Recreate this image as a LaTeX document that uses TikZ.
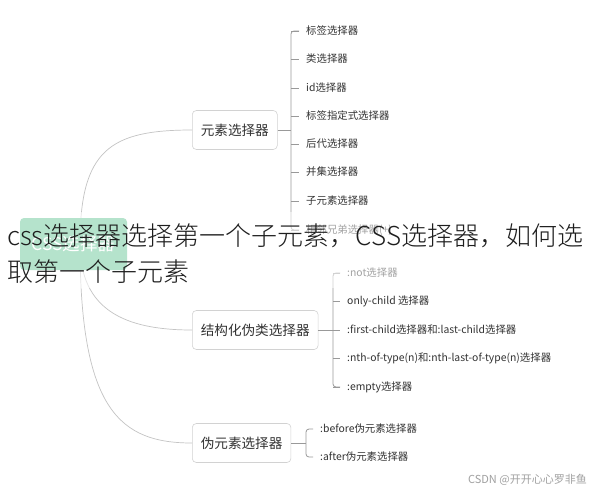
\documentclass[tikz,border=0pt]{standalone}
\usepackage{fontspec}
\setmainfont{Noto Sans CJK SC}
\newfontfamily\titlefont{Noto Sans CJK SC Light}
\definecolor{txt}{HTML}{333333}
\definecolor{boxgray}{HTML}{D2D2D2}
\definecolor{curvegray}{HTML}{C4C4C4}
\definecolor{brgray}{HTML}{999999}
\definecolor{rootgreen}{HTML}{5BC18E}
\definecolor{titlecol}{HTML}{1E1E1E}
\definecolor{wmgray}{HTML}{A0A0A0}
\begin{document}
\begin{tikzpicture}[x=1pt,y=-1pt,
  mainbox/.style={draw=boxgray, fill=white, rounded corners=4pt, line width=0.6pt,
    minimum height=39pt, inner xsep=8.5pt, anchor=west,
    font=\fontsize{13.6}{16}\selectfont, text=txt},
  leaf/.style={anchor=west, inner sep=0pt, font=\fontsize{10.4}{12}\selectfont, text=txt},
  curve/.style={draw=curvegray, line width=0.7pt},
  brack/.style={draw=brgray, line width=0.8pt, rounded corners=3pt},
  conn/.style={draw=brgray, line width=0.8pt},
  titletext/.style={anchor=west, inner sep=0pt, font=\titlefont\fontsize{26}{30}\selectfont, text=titlecol},
]
\useasboundingbox (0,0) rectangle (591,490);
\fill[white] (0,0) rectangle (591,490);

% main branch boxes
\node[mainbox] (b1) at (192,130) {元素选择器};
\node[mainbox] (b2) at (192,330) {结构化伪类选择器};
\node[mainbox] (b3) at (192,443) {伪元素选择器};

% curves from root
\coordinate (hub) at (80,244);
\draw[curve] (hub) .. controls (80,150) and (110,130) .. (b1.west);
\draw[curve] (hub) .. controls (80,310) and (125,330) .. (b2.west);
\draw[curve] (hub) .. controls (80,410) and (120,443) .. (b3.west);

% root
\node[fill=rootgreen, rounded corners=4pt, minimum width=107pt, minimum height=52pt,
  text=white, font=\fontsize{17.5}{20}\selectfont] (root) at (73.5,244) {CSS选择器};

% group 1
\foreach \y/\t [count=\i] in {31/{标签选择器}, 59/{类选择器}, 88/{id选择器},
  116/{标签指定式选择器}, 144/{后代选择器}, 172/{并集选择器}, 201/{子元素选择器},
  230/{相邻兄弟选择器(+)}} {
  \node[leaf] (a\i) at (306,\y) {\t};
  \draw[conn] (291,\y) -- ([xshift=-7pt]a\i.west);
}
\draw[brack] ([xshift=-7pt]a1.west) -- (291,31) -- (291,230) -- ([xshift=-7pt]a8.west);
\draw[conn] (b1.east) -- (291,130);

% group 2
\foreach \y/\t [count=\i] in {273/{:not选择器}, 301/{only-child 选择器},
  330/{:first-child选择器和:last-child选择器},
  358/{:nth-of-type(n)和:nth-last-of-type(n)选择器}, 387/{:empty选择器}} {
  \node[leaf] (s\i) at (347,\y) {\t};
  \draw[conn] (333,\y) -- ([xshift=-7pt]s\i.west);
}
\draw[brack] ([xshift=-7pt]s1.west) -- (333,273) -- (333,387) -- ([xshift=-7pt]s5.west);
\draw[conn] (b2.east) -- (333,330);

% group 3
\node[leaf] (p1) at (320,429) {:before伪元素选择器};
\node[leaf] (p2) at (320,457) {:after伪元素选择器};
\draw[brack] ([xshift=-7pt]p1.west) -- (306,429) -- (306,457) -- ([xshift=-7pt]p2.west);
\draw[conn] (b3.east) -- (306,443);

% translucent band behind title
\fill[white, opacity=0.55] (0,212) rectangle (591,288);

% overlaid title
\node[titletext] (t1) at (7,236) {css选择器选择第一个子元素，CSS选择器，如何选};
\node[titletext] (t2) at (7,272) {取第一个子元素};

% watermark
\node[anchor=east, inner sep=0pt, font=\fontsize{11}{13}\selectfont, text=wmgray] (wm)
  at (587,480) {CSDN @开开心心罗非鱼};
\end{tikzpicture}
\end{document}
